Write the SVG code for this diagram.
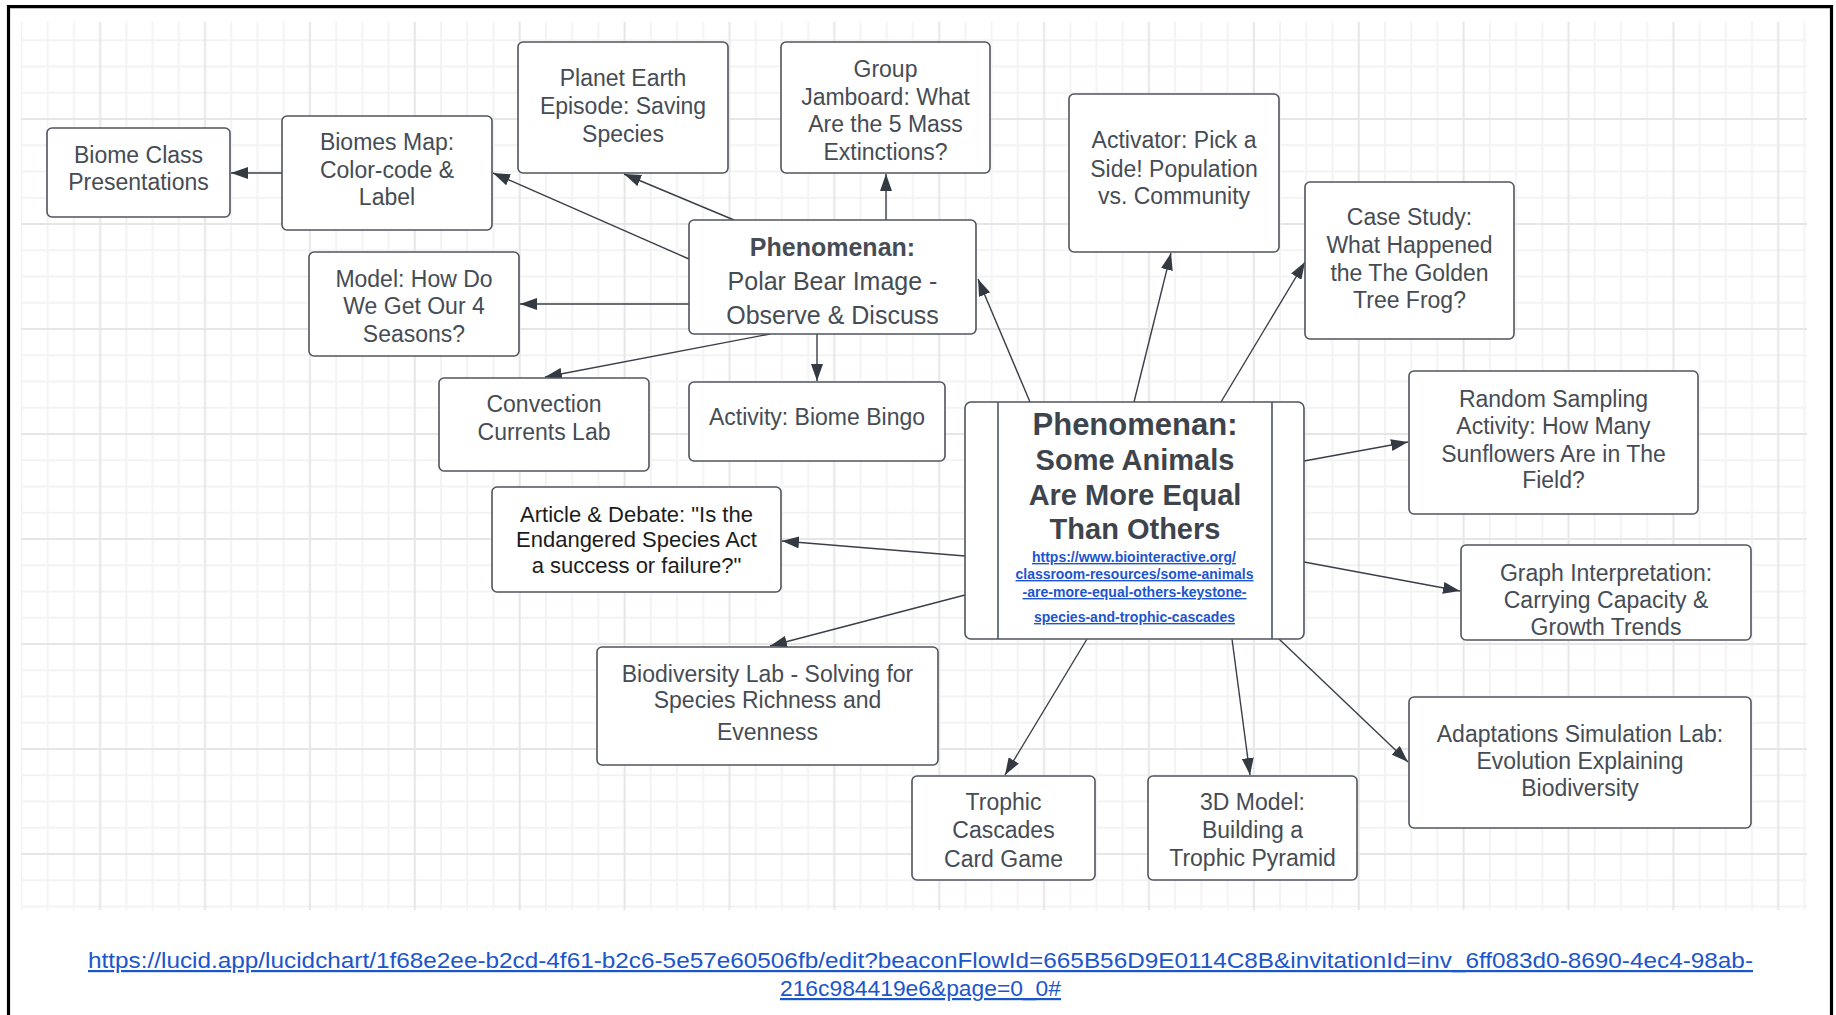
<svg xmlns="http://www.w3.org/2000/svg" width="1836" height="1015" viewBox="0 0 1836 1015">
<style>
.box{fill:#ffffff;stroke:#50555d;stroke-width:1.6}
.t{font-family:"Liberation Sans",Arial,sans-serif;font-size:23px;fill:#464c54;text-anchor:middle}
.pb{font-size:25px}
.b{font-weight:bold}
.blk{fill:#1c1c1c;font-size:22px}
.ct{font-family:"Liberation Sans",Arial,sans-serif;font-weight:bold;fill:#3e444c;text-anchor:middle;font-size:29px}
.lnk{font-family:"Liberation Sans",Arial,sans-serif;font-size:14px;font-weight:bold;fill:#1d55d0;text-anchor:middle;text-decoration:underline}
.url{font-family:"Liberation Sans",Arial,sans-serif;font-size:22px;fill:#1a56cc;text-decoration:underline}
.con line{stroke:#3a3f47;stroke-width:1.4;fill:none;marker-end:url(#ah)}
</style>
<defs>
<marker id="ah" viewBox="0 0 17 12" refX="17" refY="6" markerWidth="17" markerHeight="12" markerUnits="userSpaceOnUse" orient="auto">
<path d="M0,0 L17,6 L0,12 z" fill="#343a42"/>
</marker>
<pattern id="grid" patternUnits="userSpaceOnUse" x="20.5" y="13" width="104.88" height="105">
<rect x="0" y="0" width="2" height="105" fill="#f3f3f3"/>
<rect x="26.22" y="0" width="2" height="105" fill="#f3f3f3"/>
<rect x="52.44" y="0" width="2" height="105" fill="#f3f3f3"/>
<rect x="0" y="26.25" width="104.88" height="2" fill="#f3f3f3"/>
<rect x="0" y="52.5" width="104.88" height="2" fill="#f3f3f3"/>
<rect x="0" y="78.75" width="104.88" height="2" fill="#f3f3f3"/>
<rect x="78.66" y="0" width="2" height="105" fill="#e6e6e6"/>
<rect x="0" y="0" width="104.88" height="2" fill="#e6e6e6"/>
</pattern>
</defs>
<rect x="0" y="0" width="1836" height="1015" fill="#ffffff"/>
<rect x="21" y="21.7" width="1786" height="888.3" fill="url(#grid)"/>
<path d="M8.5,1020 V6.7 H1831.5 V1020" fill="none" stroke="#000000" stroke-width="3.2"/>

<g id="connectors" class="con">
<line x1="282" y1="173" x2="231" y2="173"/>
<line x1="689" y1="259" x2="493" y2="173"/>
<line x1="734" y1="220" x2="624" y2="174"/>
<line x1="886" y1="220" x2="886" y2="174"/>
<line x1="689" y1="304" x2="520" y2="304"/>
<line x1="770" y1="334" x2="545" y2="377"/>
<line x1="817" y1="334" x2="817" y2="381"/>
<line x1="1030" y1="402" x2="978" y2="279"/>
<line x1="1134" y1="402" x2="1171" y2="253"/>
<line x1="1221" y1="402" x2="1305" y2="262"/>
<line x1="1304" y1="461" x2="1408" y2="442"/>
<line x1="1304" y1="562" x2="1460" y2="591"/>
<line x1="1279" y1="639" x2="1408" y2="762"/>
<line x1="1232" y1="639" x2="1250" y2="775"/>
<line x1="1087" y1="639" x2="1005" y2="775"/>
<line x1="965" y1="595" x2="770" y2="646"/>
<line x1="965" y1="556" x2="782" y2="541"/>
</g>

<g id="n-biome-class">
<rect class="box" x="47" y="128" width="183" height="89" rx="5"/>
<text class="t" x="138.5" y="163">Biome Class</text>
<text class="t" x="138.5" y="190">Presentations</text>
</g>
<g id="n-biomes-map">
<rect class="box" x="282" y="116" width="210" height="114" rx="5"/>
<text class="t" x="387" y="150">Biomes Map:</text>
<text class="t" x="387" y="178">Color-code &amp;</text>
<text class="t" x="387" y="205">Label</text>
</g>
<g id="n-model">
<rect class="box" x="309" y="252" width="210" height="104" rx="5"/>
<text class="t" x="414" y="287">Model:  How Do</text>
<text class="t" x="414" y="314">We Get Our 4</text>
<text class="t" x="414" y="342">Seasons?</text>
</g>
<g id="n-planet-earth">
<rect class="box" x="518" y="42" width="210" height="131" rx="5"/>
<text class="t" x="623" y="86">Planet Earth</text>
<text class="t" x="623" y="114">Episode: Saving</text>
<text class="t" x="623" y="142">Species</text>
</g>
<g id="n-jamboard">
<rect class="box" x="781" y="42" width="209" height="131" rx="5"/>
<text class="t" x="885.5" y="77">Group</text>
<text class="t" x="885.5" y="105">Jamboard: What</text>
<text class="t" x="885.5" y="132">Are the 5 Mass</text>
<text class="t" x="885.5" y="160">Extinctions?</text>
</g>
<g id="n-polar-bear">
<rect class="box" x="689" y="220" width="287" height="114" rx="5"/>
<text class="t pb b" x="832.5" y="256">Phenomenan:</text>
<text class="t pb" x="832.5" y="290">Polar Bear Image -</text>
<text class="t pb" x="832.5" y="324">Observe &amp; Discuss</text>
</g>
<g id="n-activator">
<rect class="box" x="1069" y="94" width="210" height="158" rx="5"/>
<text class="t" x="1174" y="148">Activator: Pick a</text>
<text class="t" x="1174" y="177">Side! Population</text>
<text class="t" x="1174" y="204">vs. Community</text>
</g>
<g id="n-case-study">
<rect class="box" x="1305" y="182" width="209" height="157" rx="5"/>
<text class="t" x="1409.5" y="225">Case Study:</text>
<text class="t" x="1409.5" y="253">What Happened</text>
<text class="t" x="1409.5" y="281">the The Golden</text>
<text class="t" x="1409.5" y="308">Tree Frog?</text>
</g>
<g id="n-random-sampling">
<rect class="box" x="1409" y="371" width="289" height="143" rx="5"/>
<text class="t" x="1553.5" y="407">Random Sampling</text>
<text class="t" x="1553.5" y="434">Activity: How Many</text>
<text class="t" x="1553.5" y="462">Sunflowers Are in The</text>
<text class="t" x="1553.5" y="488">Field?</text>
</g>
<g id="n-graph">
<rect class="box" x="1461" y="545" width="290" height="95" rx="5"/>
<text class="t" x="1606" y="581">Graph  Interpretation:</text>
<text class="t" x="1606" y="608">Carrying Capacity &amp;</text>
<text class="t" x="1606" y="635">Growth Trends</text>
</g>
<g id="n-adaptations">
<rect class="box" x="1409" y="697" width="342" height="131" rx="5"/>
<text class="t" x="1580" y="742">Adaptations Simulation Lab:</text>
<text class="t" x="1580" y="769">Evolution Explaining</text>
<text class="t" x="1580" y="796">Biodiversity</text>
</g>
<g id="n-convection">
<rect class="box" x="439" y="378" width="210" height="93" rx="5"/>
<text class="t" x="544" y="412">Convection</text>
<text class="t" x="544" y="440">Currents Lab</text>
</g>
<g id="n-bingo">
<rect class="box" x="689" y="382" width="256" height="79" rx="5"/>
<text class="t" x="817" y="425">Activity: Biome Bingo</text>
</g>
<g id="n-article">
<rect class="box" x="492" y="487" width="289" height="105" rx="5"/>
<text class="t blk" x="636.5" y="522">Article &amp; Debate: "Is the</text>
<text class="t blk" x="636.5" y="547">Endangered Species Act</text>
<text class="t blk" x="636.5" y="573">a success or failure?"</text>
</g>
<g id="n-biodiversity">
<rect class="box" x="597" y="647" width="341" height="118" rx="5"/>
<text class="t" x="767.5" y="682">Biodiversity Lab - Solving for</text>
<text class="t" x="767.5" y="708">Species Richness and</text>
<text class="t" x="767.5" y="740">Evenness</text>
</g>
<g id="n-trophic-cascades">
<rect class="box" x="912" y="776" width="183" height="104" rx="5"/>
<text class="t" x="1003.5" y="810">Trophic</text>
<text class="t" x="1003.5" y="838">Cascades</text>
<text class="t" x="1003.5" y="867">Card Game</text>
</g>
<g id="n-3d-model">
<rect class="box" x="1148" y="776" width="209" height="104" rx="5"/>
<text class="t" x="1252.5" y="810">3D Model:</text>
<text class="t" x="1252.5" y="838">Building a</text>
<text class="t" x="1252.5" y="866">Trophic Pyramid</text>
</g>
<g id="n-central">
<rect class="box" x="965" y="402" width="339" height="237" rx="6"/>
<line x1="998" y1="402" x2="998" y2="639" stroke="#50555d" stroke-width="1.6"/>
<line x1="1272" y1="402" x2="1272" y2="639" stroke="#50555d" stroke-width="1.6"/>
<text class="ct" x="1135" y="435" style="font-size:31px">Phenomenan:</text>
<text class="ct" x="1135" y="470">Some Animals</text>
<text class="ct" x="1135" y="505">Are More Equal</text>
<text class="ct" x="1135" y="539">Than Others</text>
<text class="lnk" x="1134" y="562" textLength="204" lengthAdjust="spacingAndGlyphs">https://www.biointeractive.org/</text>
<text class="lnk" x="1134.5" y="579" textLength="238" lengthAdjust="spacingAndGlyphs">classroom-resources/some-animals</text>
<text class="lnk" x="1134.5" y="597" textLength="224" lengthAdjust="spacingAndGlyphs">-are-more-equal-others-keystone-</text>
<text class="lnk" x="1134.5" y="622" textLength="201" lengthAdjust="spacingAndGlyphs">species-and-trophic-cascades</text>
</g>

<g id="footer-url">
<text class="url" x="88" y="968" textLength="1665" lengthAdjust="spacingAndGlyphs">https://lucid.app/lucidchart/1f68e2ee-b2cd-4f61-b2c6-5e57e60506fb/edit?beaconFlowId=665B56D9E0114C8B&amp;invitationId=inv_6ff083d0-8690-4ec4-98ab-</text>
<text class="url" x="780" y="996" textLength="281" lengthAdjust="spacingAndGlyphs">216c984419e6&amp;page=0_0#</text>
</g>
</svg>
